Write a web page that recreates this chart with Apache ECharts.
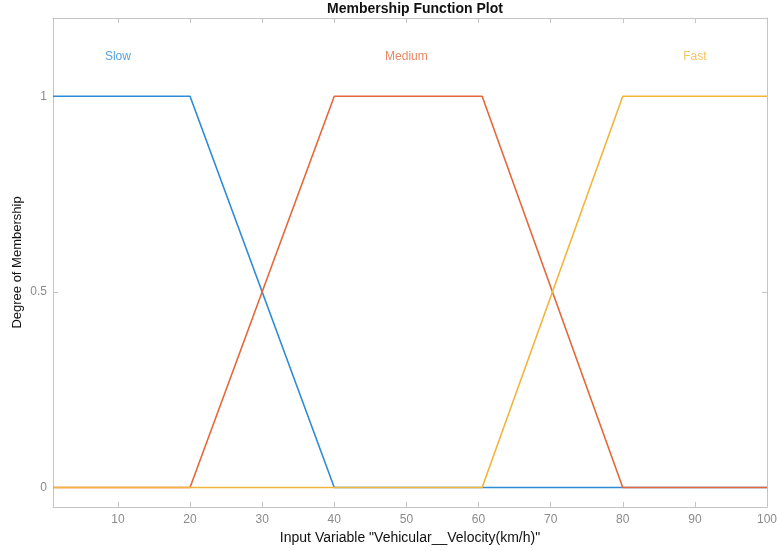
<!DOCTYPE html>
<html>
<head>
<meta charset="utf-8">
<script src="https://cdn.jsdelivr.net/npm/echarts@6/dist/echarts.min.js"></script>
<style>
  html, body { margin: 0; padding: 0; background: #fff; }
  #chart { width: 777px; height: 551px; }
</style>
</head>
<body>
<div id="chart"></div>
<script>
// Trapezoidal membership functions, corner points [x, degree]
const slowMF = [[1, 1], [20, 1], [40, 0], [100, 0]];
const mediumMF = [[1, 0], [20, 0], [40, 1], [60.5, 1], [80, 0], [100, 0]];
const fastMF = [[1, 0], [60.5, 0], [80, 1], [100, 1]];

const mfNames = ['Slow', 'Medium', 'Fast'];
const mfLabelX = [10, 50, 90];
const mfLabelY = 1.1;
const mfColors = ['#2E8BD5', '#E5683A', '#F2B53C'];

const xTicks = [10, 20, 30, 40, 50, 60, 70, 80, 90, 100];
const yTicks = [0, 0.5, 1];

const axisGray = '#c4c4c4';
const labelGray = '#8a8a8a';
const fontFam = 'Liberation Sans, Arial, sans-serif';

const chart = echarts.init(document.getElementById('chart'), null, { renderer: 'canvas' });

function tickAxis(extra) {
  return Object.assign({
    type: 'value',
    splitLine: { show: false },
    axisLine: { show: true, onZero: false, lineStyle: { color: axisGray, width: 1 } },
    axisTick: { show: true, inside: true, length: 5, lineStyle: { color: axisGray } },
    axisLabel: { show: false }
  }, extra);
}

const lineSeries = [slowMF, mediumMF, fastMF].map((d, i) => ({
  type: 'line',
  name: mfNames[i],
  data: d,
  symbol: 'none',
  lineStyle: { color: mfColors[i], width: 1.6 },
  z: 2 + i,
  animation: false
}));

const labelSeries = mfNames.map((n, i) => ({
  type: 'scatter',
  data: [[mfLabelX[i], mfLabelY]],
  symbolSize: 0,
  silent: true,
  label: {
    show: true,
    position: 'inside',
    formatter: n,
    color: mfColors[i],
    fontSize: 12,
    fontFamily: fontFam
  },
  animation: false
}));

chart.setOption({
  backgroundColor: '#fff',
  animation: false,
  title: {
    text: 'Membership Function Plot',
    left: 410,
    textAlign: 'center',
    top: -3,
    textStyle: { fontSize: 14, fontWeight: 'bold', color: '#111', fontFamily: fontFam }
  },
  grid: { left: 53, right: 10, top: 18, bottom: 44, outerBoundsMode: 'none', containLabel: false },
  xAxis: [
    tickAxis({
      position: 'bottom',
      min: 1, max: 100,
      name: 'Input Variable "Vehicular__Velocity(km/h)"',
      nameLocation: 'middle',
      nameGap: 24,
      nameMoveOverlap: false,
      nameTextStyle: { fontSize: 14, color: '#111', fontFamily: fontFam },
      axisTick: { show: true, inside: true, length: 5, lineStyle: { color: axisGray }, customValues: xTicks },
      axisLabel: { show: true, color: labelGray, fontSize: 12, fontFamily: fontFam, margin: 7, customValues: xTicks }
    }),
    tickAxis({
      position: 'top',
      min: 1, max: 100,
      axisTick: { show: true, inside: true, length: 5, lineStyle: { color: axisGray }, customValues: xTicks }
    })
  ],
  yAxis: [
    tickAxis({
      position: 'left',
      min: -0.05, max: 1.2,
      name: 'Degree of Membership',
      nameLocation: 'middle',
      nameGap: 29,
      nameMoveOverlap: false,
      nameRotate: 90,
      nameTextStyle: { fontSize: 13, color: '#111', fontFamily: fontFam },
      axisTick: { show: true, inside: true, length: 5, lineStyle: { color: axisGray }, customValues: yTicks },
      axisLabel: { show: true, color: labelGray, fontSize: 12, fontFamily: fontFam, margin: 6, customValues: yTicks,
                   formatter: v => String(v) }
    }),
    tickAxis({
      position: 'right',
      min: -0.05, max: 1.2,
      axisTick: { show: true, inside: true, length: 5, lineStyle: { color: axisGray }, customValues: yTicks }
    })
  ],
  series: lineSeries.concat(labelSeries)
});
</script>
</body>
</html>
